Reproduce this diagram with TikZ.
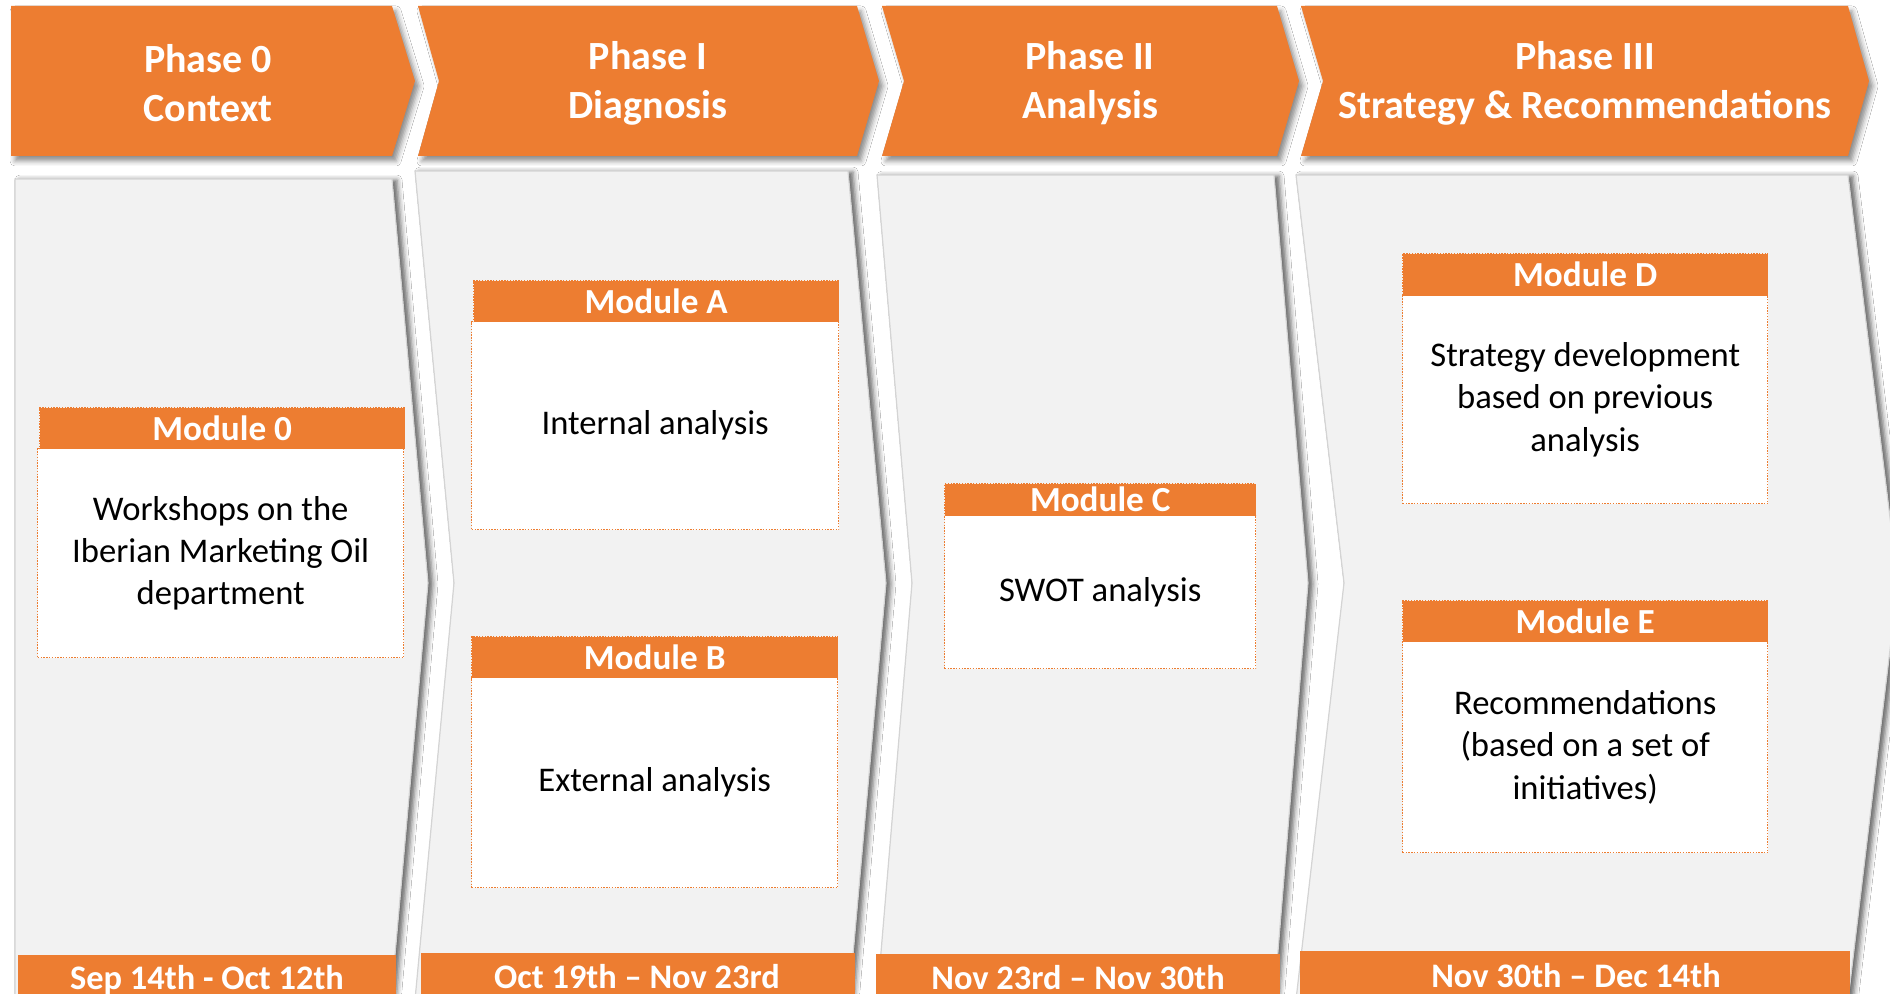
\documentclass[tikz,border=0pt]{standalone}
\usepackage{fontspec}
\setmainfont{Carlito}
\usetikzlibrary{shadows.blur}
\definecolor{orng}{HTML}{ED7D31}
\definecolor{panelfill}{HTML}{F2F2F2}
\definecolor{panelline}{HTML}{D4D4D4}
\begin{document}
\begin{tikzpicture}[x={(0.5pt,0)}, y={(0,-0.5pt)},
  chev/.style={fill=orng, blur shadow={shadow xshift=2pt, shadow yshift=-2.5pt, shadow blur radius=2.5pt, shadow opacity=45}},
  panel/.style={fill=panelfill, draw=panelline, line width=0.6pt, blur shadow={shadow xshift=2.5pt, shadow yshift=-0.5pt, shadow blur radius=2.5pt, shadow opacity=60}},
  chevtext/.style={text=white, font=\bfseries\fontsize{20}{24.4}\selectfont, align=center, inner sep=0pt},
  hdr/.style={fill=orng, draw=orng, dash pattern=on 0.7pt off 0.7pt, line width=0.7pt, text=white, font=\bfseries\fontsize{17.6}{20}\selectfont, inner sep=0pt, anchor=north west},
  bodybox/.style={fill=white, draw=orng, dash pattern=on 0.7pt off 0.7pt, line width=0.7pt, text=black, font=\fontsize{17.3}{21.1}\selectfont, align=center, inner sep=0pt, anchor=north west},
  datebar/.style={fill=orng, inner sep=0pt, anchor=north west},
  datetext/.style={text=white, font=\bfseries\fontsize{17.2}{20}\selectfont, inner sep=0pt, anchor=base}
]
\useasboundingbox (0,0) rectangle (1890,994);
\fill[white] (0,0) rectangle (1890,994);
\begin{scope}
\clip (0,0) rectangle (1890,994);
% panels
\path[panel] (15,179) -- (392,179) -- (428,583) -- (391,1000) -- (15,1000) -- cycle;
\path[panel] (415,171) -- (848,171) -- (886,583) -- (849,1000) -- (415,1000) -- (454,583) -- cycle;
\path[panel] (877,175) -- (1274,175) -- (1308,583) -- (1274,1000) -- (877,1000) -- (912,583) -- cycle;
\path[panel] (1296,175) -- (1848,175) -- (1898,583) -- (1848,1000) -- (1296,1000) -- (1344,583) -- cycle;
% chevrons
\path[chev] (11,6) -- (392,6) -- (415,81) -- (392,156) -- (11,156) -- cycle;
\path[chev] (418,6) -- (857,6) -- (879,81) -- (857,156) -- (418,156) -- (439,81) -- cycle;
\path[chev] (882,6) -- (1277,6) -- (1299,81) -- (1277,156) -- (882,156) -- (904,81) -- cycle;
\path[chev] (1301,6) -- (1848,6) -- (1869,81) -- (1848,156) -- (1301,156) -- (1323,81) -- cycle;
\node[chevtext] (c0) at (208,83) {Phase 0\\Context};
\node[chevtext] (c1) at (648,83) {Phase I\\Diagnosis};
\node[chevtext] (c2) at (1090,83) {Phase II\\Analysis};
\node[chevtext] (c3) at (1585,83) {Phase III\\Strategy \& Recommendations};
% modules
\node[bodybox, minimum width=183pt, minimum height=104.5pt] (b0) at (37,448) {Workshops on the\\Iberian Marketing Oil\\department};
\node[hdr, minimum width=182.5pt, minimum height=20.5pt] (h0) at (39,407) {Module 0};
\node[bodybox, minimum width=183.5pt, minimum height=104pt] (bA) at (471,321) {Internal analysis};
\node[hdr, minimum width=182.5pt, minimum height=20.5pt] (hA) at (473,280) {Module A};
\node[bodybox, minimum width=183pt, minimum height=105pt] (bB) at (471,677) {External analysis};
\node[hdr, minimum width=183pt, minimum height=20.5pt] (hB) at (471,636) {Module B};
\node[bodybox, minimum width=155.5pt, minimum height=76.5pt] (bC) at (944,515) {SWOT analysis};
\node[hdr, minimum width=155.5pt, minimum height=16pt] (hC) at (944,483) {Module C};
\node[bodybox, minimum width=182.5pt, minimum height=104pt] (bD) at (1402,295) {Strategy development\\based on previous\\analysis};
\node[hdr, minimum width=182.5pt, minimum height=21pt] (hD) at (1402,253) {Module D};
\node[bodybox, minimum width=182.5pt, minimum height=105.5pt] (bE) at (1402,641) {Recommendations\\(based on a set of\\initiatives)};
\node[hdr, minimum width=182.5pt, minimum height=20.5pt] (hE) at (1402,600) {Module E};
% date bars
\node[datebar, minimum width=189pt, minimum height=24pt] (d0) at (18,955) {};
\node[datebar, minimum width=217pt, minimum height=25pt] (d1) at (421,953) {};
\node[datebar, minimum width=202pt, minimum height=24.5pt] (d2) at (876,954) {};
\node[datebar, minimum width=275pt, minimum height=26pt] (d3) at (1300,951) {};
\node[datetext] (t0) at (207,989) {Sep 14th - Oct 12th};
\node[datetext] (t1) at (637,988) {Oct 19th – Nov 23rd};
\node[datetext] (t2) at (1078,989) {Nov 23rd – Nov 30th};
\node[datetext] (t3) at (1576,987) {Nov 30th – Dec 14th};
\end{scope}
\end{tikzpicture}
\end{document}
